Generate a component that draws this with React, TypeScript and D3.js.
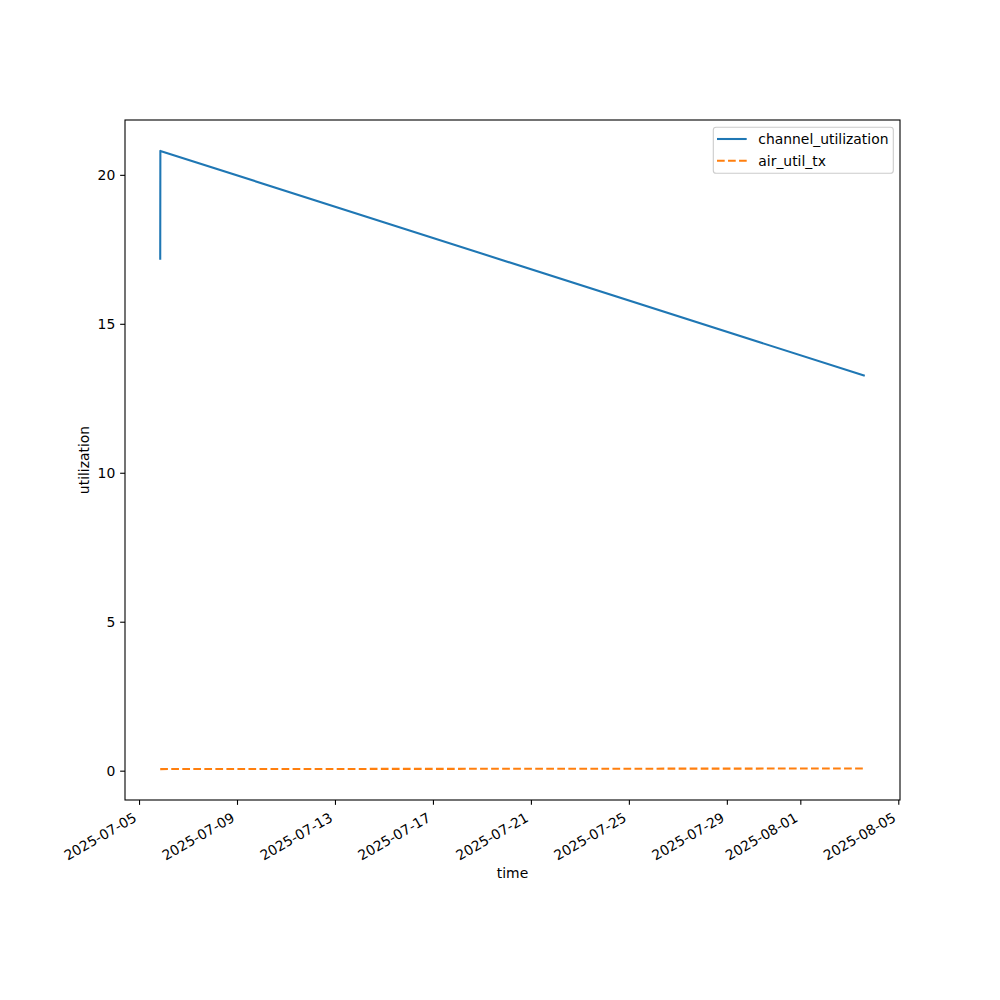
import React from "react";
import * as d3 from "d3";

const times = ["2025-07-05T20:17:00Z", "2025-07-05T20:25:00Z", "2025-08-03T14:40:00Z"];
const channelUtilization = [17.17, 20.82, 13.27];
const airUtilTx = [0.07, 0.07, 0.09];
const xTickLabels = ["2025-07-05", "2025-07-09", "2025-07-13", "2025-07-17", "2025-07-21", "2025-07-25", "2025-07-29", "2025-08-01", "2025-08-05"];
const yTicks = [0, 5, 10, 15, 20];
const seriesNames = ["channel_utilization", "air_util_tx"];

const W = 1000, H = 1000;
const L = 125, R = 900, T = 120, B = 800;
const FONT = "DejaVu Sans, sans-serif";
const FS = 13.9;

export default function App() {
  const dates = times.map((t) => new Date(t));
  const t0 = d3.min(dates)!.getTime();
  const t1 = d3.max(dates)!.getTime();
  const tm = (t1 - t0) * 0.05;
  const x = d3.scaleUtc().domain([new Date(t0 - tm), new Date(t1 + tm)]).range([L, R]);
  const all = [...channelUtilization, ...airUtilTx];
  const y0 = d3.min(all)!, y1 = d3.max(all)!;
  const ym = (y1 - y0) * 0.05;
  const y = d3.scaleLinear().domain([y0 - ym, y1 + ym]).range([B, T]);

  const line = d3.line<number>().x((_, i) => x(dates[i])).y((v) => y(v));
  const tickLen = 4.86;
  const h = 16.2;
  const blue = "#1f77b4", orange = "#ff7f0e";

  return (
    <svg width={W} height={H} style={{ position: "absolute", left: 0, top: 0, background: "#fff" }} fontFamily={FONT}>
      <rect x={0} y={0} width={W} height={H} fill="#fff" />
      <path d={line(channelUtilization) || ""} fill="none" stroke={blue} strokeWidth={2.08} strokeLinejoin="round" strokeLinecap="butt" />
      <path d={line(airUtilTx) || ""} fill="none" stroke={orange} strokeWidth={2.08} strokeDasharray="7.7,3.33" />
      <rect x={L} y={T} width={R - L} height={B - T} fill="none" stroke="#000" strokeWidth={1.1} />
      {xTickLabels.map((lab) => {
        const tx = x(new Date(lab + "T00:00:00Z"));
        return (
          <g key={lab}>
            <line x1={tx} x2={tx} y1={B} y2={B + tickLen} stroke="#000" strokeWidth={1.1} />
            <g transform={`translate(${tx},${B + tickLen + 4.86 + 0.866 * h}) rotate(-30)`}>
              <text x={0} y={-3.8} textAnchor="end" fontSize={FS} fill="#000">{lab}</text>
            </g>
          </g>
        );
      })}
      {yTicks.map((v) => (
        <g key={v}>
          <line x1={L - tickLen} x2={L} y1={y(v)} y2={y(v)} stroke="#000" strokeWidth={1.1} />
          <text x={L - tickLen - 4.86} y={y(v)} dy="0.35em" textAnchor="end" fontSize={FS} fill="#000">{v}</text>
        </g>
      ))}
      <text x={(L + R) / 2} y={878} textAnchor="middle" fontSize={FS} fill="#000">time</text>
      <text transform={`translate(89,${(T + B) / 2}) rotate(-90)`} textAnchor="middle" fontSize={FS} fill="#000">utilization</text>
      <g>
        <rect x={713.3} y={127.3} width={180} height={46} rx={2.8} fill="#fff" fillOpacity={0.8} stroke="#cccccc" strokeWidth={1.1} />
        <line x1={717} x2={746.7} y1={139} y2={139} stroke={blue} strokeWidth={2.08} />
        <text x={758.3} y={139} dy="0.35em" fontSize={FS} fill="#000">{seriesNames[0]}</text>
        <line x1={717} x2={746.7} y1={160.7} y2={160.7} stroke={orange} strokeWidth={2.08} strokeDasharray="7.7,3.33" />
        <text x={758.3} y={160.7} dy="0.35em" fontSize={FS} fill="#000">{seriesNames[1]}</text>
      </g>
    </svg>
  );
}
